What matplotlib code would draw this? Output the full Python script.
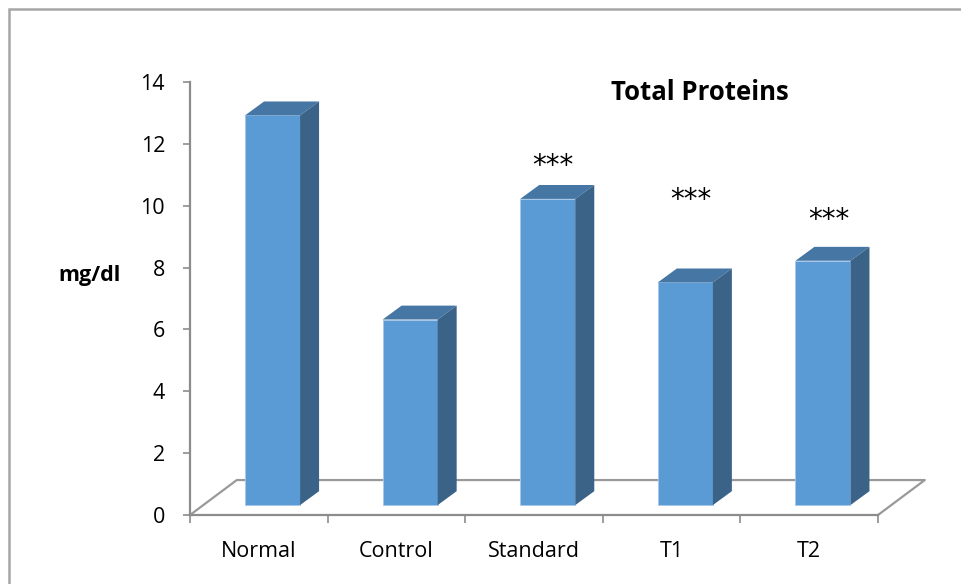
import numpy as np
import matplotlib.pyplot as plt
from matplotlib.patches import Polygon, Rectangle

plt.rcParams['font.family'] = ['Open Sans', 'DejaVu Sans']

# Data
groups = ['Normal', 'Control', 'Standard', 'T1', 'T2']
protein = [12.6, 6.0, 9.9, 7.2, 7.9]
stars = ['', '', '***', '***', '***']
star_y = [0, 0, 11.3, 10.2, 9.55]
yticks = [0, 2, 4, 6, 8, 10, 12, 14]

# Fake 3D look (in data units)
floor_dx, floor_dy = 0.34, 1.13
bar_dx, bar_dy = 0.138, 0.45
bar_w = 0.40
shift_x, shift_y = 0.10, 0.32

front_col = '#5b9bd5'
top_col = '#4677a4'
side_col = '#3b6388'
grey = '#8c8c8c'

fig = plt.figure(figsize=(9.61, 5.84), dpi=100)
ax = fig.add_axes([190 / 961, 69 / 584, 688 / 961, 433 / 584])
ax.set_xlim(-0.5, 4.5)
ax.set_ylim(0, 14)

x = np.arange(len(groups))

# floor outline (front edge is the bottom spine)
left, right = -0.5, len(groups) - 0.5
ax.plot([left, left + floor_dx, right + floor_dx, right],
        [0, floor_dy, floor_dy, 0], color='#999999', lw=1.6,
        clip_on=False, zorder=1)

# front faces
ax.bar(x + shift_x, protein, width=bar_w, bottom=shift_y, color=front_col,
       edgecolor='#a8c8ea', linewidth=0.6, zorder=3, clip_on=False)

# tops and sides
for xi, v in zip(x, protein):
    x0 = xi + shift_x - bar_w / 2
    x1 = xi + shift_x + bar_w / 2
    top = shift_y + v
    ax.add_patch(Polygon([(x0, top), (x0 + bar_dx, top + bar_dy),
                          (x1 + bar_dx, top + bar_dy), (x1, top)],
                         closed=True, fc=top_col, ec='none', zorder=3,
                         clip_on=False))
    ax.add_patch(Polygon([(x1, shift_y), (x1 + bar_dx, shift_y + bar_dy),
                          (x1 + bar_dx, top + bar_dy), (x1, top)],
                         closed=True, fc=side_col, ec='none', zorder=3,
                         clip_on=False))

# significance marks
for xi, s, sy in zip(x, stars, star_y):
    if s:
        ax.text(xi + 0.14, sy, s, ha='center', va='center', fontsize=20,
                family='DejaVu Sans', zorder=4)

# axes styling
for side in ['top', 'right']:
    ax.spines[side].set_visible(False)
for side in ['left', 'bottom']:
    ax.spines[side].set_color(grey)
    ax.spines[side].set_linewidth(1.6)

ax.set_yticks(yticks)
ax.tick_params(axis='y', length=5, width=1.2, color=grey, pad=13,
               labelsize=15.5)
ax.set_xticks(x)
ax.set_xticklabels(groups)
ax.set_xticks(np.arange(-0.5, len(groups)), minor=True)
ax.tick_params(axis='x', which='major', length=0, pad=19, labelsize=15.5)
ax.tick_params(axis='x', which='minor', length=6, width=1.2, color=grey)

fig.text(90 / 961, 1 - 276 / 584, 'mg/dl', ha='center', va='center',
         fontsize=15.5, fontweight='bold')
fig.text(700 / 961, 1 - 93 / 584, 'Total Proteins', ha='center',
         va='center', fontsize=18.5, fontweight='bold')

# chart border
fig.add_artist(Rectangle((9 / 961, -0.05), 1.2, 1.05 - 9 / 584,
                         transform=fig.transFigure, fill=False,
                         ec='#a6a6a6', lw=1.8))

fig.savefig('out.png', dpi=100)
